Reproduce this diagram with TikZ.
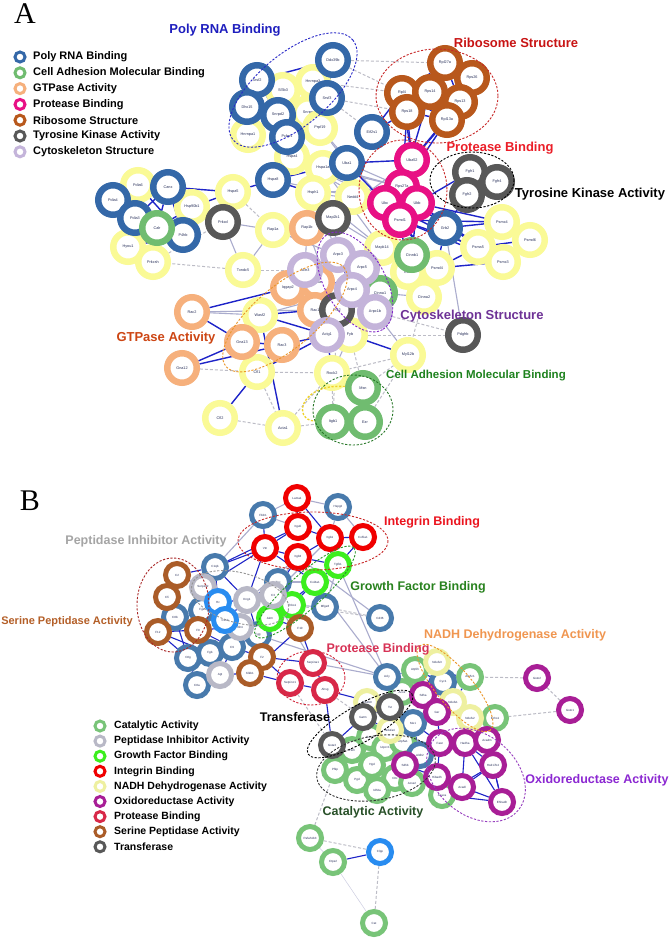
\documentclass[tikz,border=0pt]{standalone}
\usepackage{fontspec}
\setmainfont{Liberation Sans}
\newfontfamily\panelfont{Liberation Serif}
\usepackage{tikz}
\usetikzlibrary{positioning,backgrounds}
% ring colours, panel A
\definecolor{cPoly}{RGB}{52,104,168}
\definecolor{cAdh}{RGB}{112,188,112}
\definecolor{cGtp}{RGB}{246,176,124}
\definecolor{cProt}{RGB}{232,16,132}
\definecolor{cRibo}{RGB}{184,88,28}
\definecolor{cTyr}{RGB}{88,88,88}
\definecolor{cCyto}{RGB}{196,180,218}
\definecolor{cPlain}{RGB}{250,250,150}
% ring colours, panel B
\definecolor{cCat}{RGB}{120,196,120}
\definecolor{cPep}{RGB}{184,184,198}
\definecolor{cGf}{RGB}{60,238,30}
\definecolor{cInt}{RGB}{240,0,0}
\definecolor{cNadh}{RGB}{238,240,160}
\definecolor{cOx}{RGB}{168,30,150}
\definecolor{cPb}{RGB}{216,40,72}
\definecolor{cSer}{RGB}{170,92,40}
\definecolor{cLblue}{RGB}{40,140,240}
\definecolor{cBlueB}{RGB}{72,122,172}
% edges and text
\definecolor{nodetext}{RGB}{40,48,90}
\definecolor{edgeblue}{RGB}{30,36,200}
\definecolor{edgegray}{RGB}{170,172,205}
\definecolor{edgedash}{RGB}{188,188,198}
\definecolor{tPoly}{RGB}{30,30,190}
\definecolor{tRibo}{RGB}{200,20,20}
\definecolor{tProt}{RGB}{235,30,40}
\definecolor{tGtp}{RGB}{205,70,20}
\definecolor{tCyto}{RGB}{110,50,150}
\definecolor{tAdh}{RGB}{30,130,30}
\definecolor{tInt}{RGB}{235,20,30}
\definecolor{tGf}{RGB}{40,130,30}
\definecolor{tPep}{RGB}{165,165,165}
\definecolor{tSer}{RGB}{180,95,40}
\definecolor{tNadh}{RGB}{240,150,80}
\definecolor{tPb}{RGB}{215,50,85}
\definecolor{tOx}{RGB}{140,40,210}
\definecolor{tCat}{RGB}{40,80,40}
\definecolor{gPoly}{RGB}{40,40,200}
\definecolor{gRed}{RGB}{200,40,40}
\definecolor{gOrange}{RGB}{235,150,40}
\definecolor{gCyto}{RGB}{130,40,200}
\definecolor{gGreen}{RGB}{40,120,40}
\definecolor{gYel}{RGB}{240,210,40}
\definecolor{gGf}{RGB}{40,150,40}
\definecolor{gPep}{RGB}{150,150,150}
\definecolor{gSer}{RGB}{170,40,40}
\definecolor{gPb}{RGB}{210,40,60}
\definecolor{gOx}{RGB}{150,60,190}
\tikzstyle{ringA}=[circle,draw,fill=white,line width=6.5pt,minimum size=29.5pt,inner sep=0pt,
                   text=nodetext,font=\fontsize{3.8}{4}\selectfont]
\tikzstyle{ringB}=[circle,draw,fill=white,line width=5pt,minimum size=23pt,inner sep=0pt,
                   text=nodetext,font=\fontsize{3}{3.5}\selectfont]
\tikzstyle{bluelink}=[draw=edgeblue,line width=1.4pt]
\tikzstyle{graylink}=[draw=edgegray,line width=1.1pt]
\tikzstyle{dashlink}=[draw=edgedash,line width=1pt,dash pattern=on 3pt off 2pt]
\tikzstyle{grpline}=[line width=0.9pt,dash pattern=on 2.2pt off 1.6pt]
\tikzstyle{grplabel}=[font=\bfseries\fontsize{13}{15}\selectfont,inner sep=0pt]
\tikzstyle{legring}=[circle,draw,line width=3pt,minimum size=10pt,inner sep=0pt]
\tikzstyle{legtext}=[font=\bfseries\fontsize{11}{13}\selectfont,anchor=west,inner sep=0pt]

\begin{document}
\begin{tikzpicture}[x=1pt,y=-1pt]
  \useasboundingbox (0,0) rectangle (672,938);
  \node[font=\panelfont\fontsize{30}{30}\selectfont] (panA) at (25,14) {A};
  \node[font=\panelfont\fontsize{30}{30}\selectfont] (panB) at (30,501) {B};

  % ---------------- panel A ----------------
  \foreach \n/\x/\y in {Sf3b3/283/90,Hnrnpa3/313/82,Snrpa/308/113,Hnrnpa1/248/135,Prpf19/320/128,
      Hspa4/292/157,Hspa1a/323/168,Hsph1/313/193,Nedd4/353/197,Hspa5/233/192,Pdia6/138/185,
      Hsp90b1/192/207,Hyou1/128/247,Prkcsh/153/262,Rap1a/273/230,Txndc5/243/270,Wasf2/260/315,
      Cfl1/257/372,Rock2/332/373,Fyb/350/335,Mapk14/382/248,Cul1/408/272,Psmd4/437/268,
      Psmc4/502/222,Psmd6/530/240,Psma5/478/247,Psmc3/503/262,Ctnna2/424/297,Myl12b/408/355,
      Cfl2/220/418,Acta1/283/428}
    \node[ringA,draw=cPlain] (\n) at (\x,\y) {\n};
  \foreach \n/\x/\y in {Ddx39b/333/60,Srsf2/257/80,Srsf3/327/98,Dhx15/247/107,Snrpd2/278/115,
      Pcbp1/287/137,Hspa8/273/180,Uba1/347/163,Eif2s1/372/132,Pdia4/113/200,Pdia3/135/218,
      Canx/168/187,P4hb/183/235,Grb2/445/228}
    \node[ringA,draw=cPoly] (\n) at (\x,\y) {\n};
  \foreach \n/\x/\y in {Calr/157/228,Ctnnb1/412/255,Ctnna1/380/293,Msn/363/388,Itgb1/333/422,Ezr/365/422}
    \node[ringA,draw=cAdh] (\n) at (\x,\y) {\n};
  \foreach \n/\x/\y in {Rap1b/307/228,Iqgap2/288/288,Rhoa/317/282,Rac1/315/310,Rac2/192/312,
      Gna13/242/342,Rac3/282/345,Gna12/182/368}
    \node[ringA,draw=cGtp] (\n) at (\x,\y) {\n};
  \foreach \n/\x/\y in {Uba52/412/160,Rps27a/402/187,Ubc/385/203,Ubb/417/203,Psmd1/400/220}
    \node[ringA,draw=cProt] (\n) at (\x,\y) {\n};
  \foreach \n/\x/\y in {Rpl27a/445/63,Rps26/472/78,Rpl4/402/93,Rps14/430/92,Rps13/460/102,
      Rps18/407/112,Rpl13a/447/120}
    \node[ringA,draw=cRibo] (\n) at (\x,\y) {\n};
  \foreach \n/\x/\y in {Fgfr1/470/172,Fgfr4/497/182,Fgfr2/467/195,Prkcd/223/222,Map2k1/333/218,
      Ptk2/337/310,Pdgfrb/463/335}
    \node[ringA,draw=cTyr] (\n) at (\x,\y) {\n};
  \foreach \n/\x/\y in {Arpc3/338/255,Actr3/305/270,Arpc5/362/268,Arpc4/352/290,Arpc1b/375/312,Actg1/327/335}
    \node[ringA,draw=cCyto] (\n) at (\x,\y) {\n};

  % ---------------- panel B ----------------
  \foreach \n/\x/\y in {Atp5h/415/670,Atp5c1/470/677,Aco2/402/692,Echs1/495/718,Pkm/352/750,
      Eno1/370/737,Uqcrc1/385/748,Atp5a1/403/742,Pfkp/335/770,Pgd/357/780,Hgd/372/765,
      Cltc/395/778,Idh3a/377/790,Acss2/412/783,Acaca/442/795,Pafah1b3/310/838,Ctps2/333/862,Cat/374/923}
    \node[ringB,draw=cCat] (b\n) at (\x,\y) {\n};
  \foreach \n/\x/\y in {Fbln1/263/515,Hspg2/338/507,Tnc/278/582,Mfge8/325/607,Cd36/380/618,
      Fgg/258/635,C1qb/215/567,C8b/175/617,Fga/202/610,C8g/188/658,Fgb/210/653,C9/232/647,
      C8a/197/685,Acly/387/677,Cyc1/443/682,Me1/413/723,Aldh2/420/755}
    \node[ringB,draw=cBlueB] (b\n) at (\x,\y) {\n};
  \foreach \n/\x/\y in {Lama1/297/498,Itga5/298/527,Itgb1/330/538,Col5a1/363/537,Vtn/265/548,Itgb3/298/557}
    \node[ringB,draw=cInt] (b\n) at (\x,\y) {\n};
  \foreach \n/\x/\y in {Tgfb1/338/565,Col4a1/315/582,Thbs1/292/605,A2m/270/618}
    \node[ringB,draw=cGf] (b\n) at (\x,\y) {\n};
  \foreach \n/\x/\y in {Serpinf2/203/587,Kng1/247/600,C3/273/595,Itih4/240/627,Agt/220/675}
    \node[ringB,draw=cPep] (b\n) at (\x,\y) {\n};
  \foreach \n/\x/\y in {Hc/218/602,C1s2/225/620,Clpp/380/852}
    \node[ringB,draw=cLblue] (b\n) at (\x,\y) {\n};
  \foreach \n/\x/\y in {C2/177/575,Cfi/167/597,F12/158/632,F9/198/630,F10/300/628,F2/262/657,Klkb1/250/673}
    \node[ringB,draw=cSer] (b\n) at (\x,\y) {\n};
  \foreach \n/\x/\y in {Serpina1/313/663,Serpinc1/290/683,Ahsg/325/690}
    \node[ringB,draw=cPb] (b\n) at (\x,\y) {\n};
  \foreach \n/\x/\y in {Ndufs3/437/662,Ndufs1/453/702,Ndufv2/470/718,Ndufb9/367/702,Ndufa4/390/730}
    \node[ringB,draw=cNadh] (b\n) at (\x,\y) {\n};
  \foreach \n/\x/\y in {Sdha/423/695,Gsr/437/712,Fasn/440/743,Hadha/465/743,Acadm/487/740,
      Sdhb/405/765,Hsd17b4/493/765,Hibadh/437/777,Acadl/462/787,Ehhadh/502/802,Gsto2/537/678,Gsto1/570/710}
    \node[ringB,draw=cOx] (b\n) at (\x,\y) {\n};
  \foreach \n/\x/\y in {Tst/390/707,Gatm/363/717,Gsta3/332/745}
    \node[ringB,draw=cTyr] (b\n) at (\x,\y) {\n};

  % connectors behind the rings
  \begin{pgfonlayer}{background}
    \fill[white] (0,0) rectangle (672,938);
    \foreach \p/\q in {Ddx39b/Rpl4,Srsf3/Rps18,Srsf3/Eif2s1,Ddx39b/Rpl27a,Txndc5/Prkcsh,Txndc5/Actr3,
        Fyb/Pdgfrb,Arpc1b/Pdgfrb,Myl12b/Rock2,Cfl2/Acta1,Acta1/Rock2,Rock2/Msn,Myl12b/Msn,Acta1/Itgb1,
        Cfl1/Rock2,Gna12/Cfl1,Ptk2/Itgb1,Hspa5/Rap1a,Prkcsh/Prkcd,Hyou1/Prkcsh,Hnrnpa3/Rpl4,
        Rock2/Itgb1,Cfl1/Acta1,Ctnna2/Myl12b,Fyb/Msn,Ezr/Myl12b}
      \draw[dashlink] (\p) -- (\q);
    \foreach \p/\q in {Hspa4/Ubc,Hsph1/Ubc,Hspa1a/Rps27a,Nedd4/Ubc,Prkcd/Rap1a,Prkcd/Txndc5,
        Map2k1/Ubc,Map2k1/Mapk14,Map2k1/Rap1b,Rap1a/Rap1b,Rap1b/Actr3,Rap1a/Arpc3,Hsph1/Arpc3,
        Hspa1a/Mapk14,Mapk14/Psmd1,Hspa4/Psmd1,Rac2/Wasf2,Wasf2/Arpc4,Ctnna2/Ctnnb1,Pdgfrb/Grb2,
        Arpc1b/Myl12b,Uba1/Rps27a,Hspa8/Ubc,Prpf19/Ubc,Prpf19/Uba1,Hsph1/Mapk14,Nedd4/Psmd1,
        Hspa5/Prkcd,Hsph1/Rps27a,Hspa4/Rps27a,Map2k1/Arpc3,Txndc5/Rap1a,Rac2/Rac1,Iqgap2/Arpc3,
        Ctnna1/Ctnna2,Mapk14/Ctnnb1,Hspa1a/Ubc,Rap1b/Ptk2,Rock2/Fyb,Map2k1/Uba52}
      \draw[graylink] (\p) -- (\q);
    \foreach \p/\q in {Srsf2/Ddx39b,Dhx15/Srsf2,Dhx15/Snrpd2,Snrpd2/Pcbp1,Srsf2/Snrpd2,Sf3b3/Snrpd2,
        Hnrnpa3/Srsf3,Snrpa/Snrpd2,Hnrnpa1/Dhx15,Hnrnpa1/Snrpd2,Srsf3/Snrpd2,Ddx39b/Srsf3,
        Pcbp1/Hspa8,Hspa4/Hspa8,Hspa8/Hspa5,Hspa8/Hsph1,Hspa1a/Hspa8,Hsp90b1/Hspa5,Pdia4/Pdia6,
        Pdia4/Canx,Pdia4/Pdia3,Pdia3/Canx,Pdia3/Calr,Pdia3/P4hb,Canx/Calr,Canx/P4hb,Canx/Hsp90b1,
        Calr/P4hb,Calr/Hsp90b1,Pdia6/P4hb,Hyou1/P4hb,Prkcsh/Calr,Pdia4/P4hb,Canx/Hspa5,
        Pdia6/Hsp90b1,Hsp90b1/P4hb,
        Rpl27a/Rps26,Rpl27a/Rps14,Rpl27a/Rps13,Rps26/Rps13,Rpl4/Rps14,Rpl4/Rps18,Rps14/Rps18,
        Rps14/Rps13,Rps13/Rpl13a,Rps18/Rpl13a,Rpl4/Rpl13a,Rps14/Rpl13a,Rps26/Rpl13a,Rpl27a/Rpl4,
        Rps18/Uba52,Rpl13a/Uba52,Rps13/Uba52,Rpl4/Uba52,Rps14/Rps27a,Rpl13a/Rps27a,Rps18/Rps27a,
        Rps18/Eif2s1,Rpl4/Eif2s1,
        Uba52/Ubc,Uba52/Ubb,Rps27a/Psmd1,Ubc/Uba1,Ubc/Nedd4,Uba52/Uba1,Ubb/Grb2,
        Psmd1/Psma5,Psmd1/Psmc4,Psmd1/Psmc3,Psmd1/Psmd4,Ubb/Psmc4,Ubb/Psma5,Ubc/Psmc3,Psma5/Psmc4,
        Psma5/Psmc3,Psmc4/Psmd6,Psmc3/Psmd6,Psma5/Psmd6,Psmd4/Psma5,Psmd4/Psmc3,Grb2/Fgfr2,
        Grb2/Psmd4,Ctnnb1/Ubb,Cul1/Psmd1,Ubb/Psmc3,Grb2/Psmc4,Ubc/Psmd4,Ubb/Fgfr1,
        Arpc3/Arpc5,Arpc3/Arpc4,Arpc5/Arpc4,Arpc4/Arpc1b,Arpc3/Actr3,Actr3/Arpc4,Ctnnb1/Ctnna1,
        Arpc5/Ctnnb1,Arpc1b/Actg1,Arpc5/Ctnna1,Arpc4/Ctnna1,
        Rac2/Iqgap2,Rac2/Gna13,Gna13/Wasf2,Gna13/Rac3,Wasf2/Rac1,Gna12/Rac3,Gna12/Gna13,
        Iqgap2/Rac1,Rhoa/Rac1,Wasf2/Actg1,Cfl1/Actg1,Rac3/Actg1,Cfl2/Cfl1,Acta1/Wasf2,Fyb/Myl12b,
        Rock2/Actg1,Rhoa/Arpc4,Iqgap2/Rhoa,Rac1/Arpc4,Gna13/Cfl1}
      \draw[bluelink] (\p) -- (\q);
    % panel B
    \foreach \p/\q in {Mfge8/Cd36,Gsto2/Atp5c1,Gsto2/Gsto1,Gsto1/Echs1,Ahsg/Gatm,Pafah1b3/Pfkp,
        Pafah1b3/Clpp,Clpp/Cat,Serpinc1/Gsta3,Thbs1/Cd36}
      \draw[dashlink] (b\p) -- (b\q);
    \foreach \p/\q in {Fbln1/Lama1,Lama1/Hspg2,Hspg2/Itgb1,Fbln1/Itga5,Tnc/Col4a1,Tnc/Itgb3,
        Mfge8/Thbs1,Mfge8/Tgfb1,Cd36/Itgb3,Fgg/Acly,C3/Serpina1,Tgfb1/Acly,Col4a1/Acly,Kng1/Itgb3,
        Fbln1/C1qb,Hspg2/Col5a1,Tnc/C3,C3/Itgb1,Serpina1/Acly,Atp5h/Ndufs3,Ndufb9/Tst}
      \draw[graylink] (b\p) -- (b\q);
    \foreach \p/\q in {Pafah1b3/Ctps2,Ctps2/Cat}
      \draw[edgegray!60,line width=0.5pt] (b\p) -- (b\q);
    \foreach \p/\q in {Lama1/Itga5,Lama1/Itgb1,Itga5/Itgb1,Vtn/Itgb3,Vtn/Itga5,Itgb3/Itgb1,
        Itgb1/Col5a1,Itgb3/Tgfb1,Itgb1/Tgfb1,Col5a1/Tgfb1,Tgfb1/Col4a1,Col4a1/Thbs1,Thbs1/A2m,
        Vtn/C1qb,Vtn/Kng1,Vtn/Serpinf2,Itgb3/C3,Fbln1/Vtn,C1qb/C2,C1qb/Hc,C2/Cfi,Cfi/C8b,C8b/Fga,
        C2/Serpinf2,Serpinf2/Hc,Hc/Kng1,Kng1/C3,Kng1/C1s2,C1s2/Fga,C1s2/Itih4,Fga/F9,F12/F9,
        F12/C8b,F9/Itih4,Itih4/Fgg,Fgg/A2m,C9/Fgb,Fgb/C8g,C8g/C8a,C9/F2,F2/Klkb1,Klkb1/Agt,Agt/C9,
        F12/Fgb,F9/C9,Fgg/F2,A2m/F10,F10/Klkb1,F2/Serpina1,Klkb1/Serpinc1,F10/Serpina1,Fgg/C9,
        C3/A2m,C3/Fgg,Hc/Fga,Kng1/Fgg,Ahsg/Tst,Ahsg/Gsta3,Serpinc1/Ahsg,Serpina1/Ahsg,F2/Serpinc1,
        C1qb/Kng1,Vtn/Col4a1,Itga5/C1qb,Tnc/Kng1,Col4a1/A2m,Fgb/Agt,C8b/C8g,F12/C8g,
        Tst/Sdha,Atp5h/Atp5c1,Atp5h/Cyc1,Ndufs3/Cyc1,Cyc1/Sdha,Sdha/Gsr,Gsr/Ndufs1,Gsr/Me1,
        Me1/Fasn,Fasn/Hadha,Hadha/Acadm,Acadm/Hsd17b4,Hsd17b4/Ehhadh,Hadha/Acadl,Acadl/Ehhadh,
        Fasn/Hibadh,Hibadh/Acadl,Sdhb/Hibadh,Sdhb/Atp5a1,Atp5a1/Uqcrc1,Uqcrc1/Eno1,Eno1/Pkm,
        Pkm/Pfkp,Pfkp/Pgd,Pgd/Hgd,Hgd/Cltc,Cltc/Idh3a,Idh3a/Pgd,Acss2/Cltc,Aldh2/Hadha,Aldh2/Fasn,
        Gsta3/Pkm,Gatm/Ndufa4,Me1/Ndufa4,Hsd17b4/Acaca,Acadl/Acaca,Ehhadh/Acadm,Ndufv2/Hadha,
        Echs1/Hadha,Echs1/Acadm,Gsr/Fasn,Sdha/Aco2,Ndufs1/Ndufv2,Me1/Aldh2,Aldh2/Sdhb,
        Acadl/Hsd17b4,Ehhadh/Hadha,Gatm/Tst,Gsta3/Gatm,Ctps2/Clpp,Acly/Atp5h,Aco2/Tst,Ndufs3/Sdha,
        Atp5c1/Ndufs1,Hsd17b4/Hadha,Acaca/Ehhadh,Sdhb/Acss2,Me1/Atp5a1}
      \draw[bluelink,line width=1.1pt] (b\p) -- (b\q);
  \end{pgfonlayer}

  % groups, panel A
  \draw[grpline,draw=gPoly,rotate around={40:(293,90)}] (293,90) ellipse [x radius=78,y radius=36];
  \draw[grpline,draw=gRed] (437,96) ellipse [x radius=61,y radius=47];
  \draw[grpline,draw=gRed] (403,190) ellipse [x radius=44,y radius=50];
  \draw[grpline,draw=black] (472,180) ellipse [x radius=42,y radius=28];
  \draw[grpline,draw=gOrange,rotate around={40:(285,317)}] (285,317) ellipse [x radius=77,y radius=31];
  \draw[grpline,draw=gCyto,rotate around={-60:(355,282)}] (355,282) ellipse [x radius=55,y radius=30];
  \draw[grpline,draw=gGreen] (353,410) ellipse [x radius=40,y radius=35];
  \draw[grpline,draw=gYel,line width=1.3pt] (Msn) .. controls (300,383) and (292,420) .. (Itgb1);

  \node[grplabel,text=tPoly] (lPoly) at (225,30) {Poly RNA Binding};
  \node[grplabel,text=tRibo] (lRibo) at (516,43) {Ribosome Structure};
  \node[grplabel,text=tProt] (lProt) at (500,148) {Protease Binding};
  \node[grplabel,text=black] (lTyr) at (590,194) {Tyrosine Kinase Activity};
  \node[grplabel,text=tGtp] (lGtp) at (166,338) {GTPase Activity};
  \node[grplabel,text=tCyto] (lCyto) at (472,316) {Cytoskeleton Structure};
  \node[grplabel,text=tAdh,font=\bfseries\fontsize{11.5}{14}\selectfont] (lAdh) at (476,376) {Cell Adhesion Molecular Binding};

  \foreach \c/\t [count=\i] in {cPoly/Poly RNA Binding,cAdh/Cell Adhesion Molecular Binding,
      cGtp/GTPase Activity,cProt/Protease Binding,cRibo/Ribosome Structure,
      cTyr/Tyrosine Kinase Activity,cCyto/Cytoskeleton Structure}{
    \node[legring,draw=\c] (legA\i) at (20,41.2+15.8*\i) {};
    \node[legtext,right=6.5pt of legA\i] (legAt\i) {\t};
  }

  % groups, panel B
  \draw[grpline,draw=gRed] (313,541) ellipse [x radius=75,y radius=29];
  \draw[grpline,draw=gGf,rotate around={42:(305,592)}] (305,592) ellipse [x radius=66,y radius=17];
  \draw[grpline,draw=gPep,rotate around={-15:(240,598)}] (240,598) ellipse [x radius=50,y radius=25];
  \draw[grpline,draw=gSer] (173,605) ellipse [x radius=36,y radius=47];
  \draw[grpline,draw=gPb] (311,678) ellipse [x radius=34,y radius=27];
  \draw[grpline,draw=gOrange,rotate around={-50:(455,688)}] (455,688) ellipse [x radius=55,y radius=18];
  \draw[grpline,draw=black,rotate around={30:(360,724)}] (360,724) ellipse [x radius=60,y radius=18];
  \draw[grpline,draw=black!80,rotate around={10:(376,768)}] (376,768) ellipse [x radius=60,y radius=32];
  \draw[grpline,draw=gOx,rotate around={-40:(476,775)}] (476,775) ellipse [x radius=55,y radius=40];

  \node[grplabel,text=tInt,font=\bfseries\fontsize{12.5}{15}\selectfont] (lInt) at (432,522) {Integrin Binding};
  \node[grplabel,text=tGf,font=\bfseries\fontsize{12.5}{15}\selectfont] (lGf) at (418,587) {Growth Factor Binding};
  \node[grplabel,text=tNadh,font=\bfseries\fontsize{12.5}{15}\selectfont] (lNadh) at (515,635) {NADH Dehydrogenase Activity};
  \node[grplabel,text=tPb,font=\bfseries\fontsize{12.5}{15}\selectfont] (lPb) at (378,649) {Protease Binding};
  \node[grplabel,text=black,font=\bfseries\fontsize{12.5}{15}\selectfont] (lTr) at (295,717) {Transferase};
  \node[grplabel,text=tOx,font=\bfseries\fontsize{12.5}{15}\selectfont] (lOx) at (597,780) {Oxidoreductase Activity};
  \node[grplabel,text=tCat,font=\bfseries\fontsize{12.5}{15}\selectfont] (lCat) at (373,812) {Catalytic Activity};
  \node[grplabel,text=tPep,font=\bfseries\fontsize{12.5}{15}\selectfont] (lPep) at (146,541) {Peptidase Inhibitor Activity};
  \node[grplabel,text=tSer,font=\bfseries\fontsize{11}{13}\selectfont] (lSer) at (67,622) {Serine Peptidase Activity};

  \foreach \c/\t [count=\i] in {cCat/Catalytic Activity,cPep/Peptidase Inhibitor Activity,
      cGf/Growth Factor Binding,cInt/Integrin Binding,cNadh/NADH Dehydrogenase Activity,
      cOx/Oxidoreductase Activity,cPb/Protease Binding,cSer/Serine Peptidase Activity,cTyr/Transferase}{
    \node[legring,draw=\c] (legB\i) at (100,710.9+15.1*\i) {};
    \node[legtext,font=\bfseries\fontsize{10.5}{12}\selectfont,right=7.5pt of legB\i] (legBt\i) {\t};
  }
\end{tikzpicture}
\end{document}
